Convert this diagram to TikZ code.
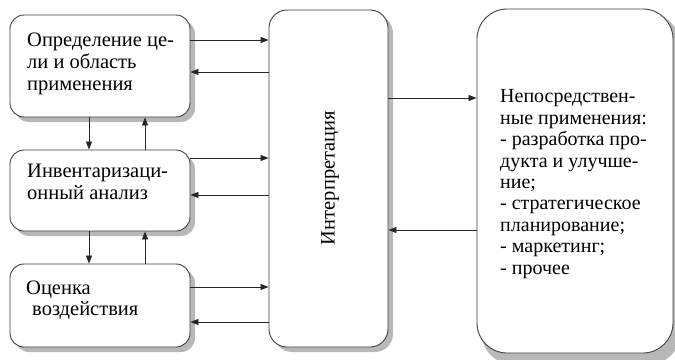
\documentclass[tikz,border=0pt]{standalone}
\usepackage{fontspec}
\setmainfont{Liberation Serif}
\usetikzlibrary{arrows.meta}
\newcommand{\lines}[1]{\begin{tabular}[b]{@{}l@{}}#1\end{tabular}}
\begin{document}
\begin{tikzpicture}[x=1pt,y=-1pt,
  box/.style={draw=black!75, line width=0.9pt, fill=white, rectangle,
    rounded corners=#1, inner sep=0pt},
  box/.default=14pt,
  shade box/.style={fill=black!28, draw=none, rounded corners=#1},
  shade box/.default=14pt,
  txt/.style={anchor=base west, inner sep=0pt,
    font=\fontsize{20.5}{22}\selectfont},
  arr/.style={draw=black!85, line width=0.8pt, -{Triangle[length=8pt,width=6pt]}}]
\useasboundingbox (0,0) rectangle (675,359);

% shadows behind the boxes
\fill[shade box] (15,20) rectangle (195,122);
\fill[shade box] (15,155) rectangle (195,236);
\fill[shade box] (15,269) rectangle (195,352);
\fill[shade box=18pt] (274,15) rectangle (393,352);
\fill[shade box=30pt] (482,14) rectangle (680,364);

% left column
\node[box, minimum width=180pt, minimum height=102pt] (def) at (100,66) {};
\node[box, minimum width=180pt, minimum height=81pt] (inv) at (100,190.5) {};
\node[box, minimum width=180pt, minimum height=83pt] (ocn) at (100,305.5) {};
% interpretation
\node[box=18pt, minimum width=119pt, minimum height=337pt] (int) at (328.5,178.5) {};
% applications
\node[box=30pt, minimum width=196pt, minimum height=344pt] (app) at (575,181) {};

% texts (anchored at the baseline of their last line)
\node[txt] (tdef) at (27,90) {\lines{Определение це-\\ли и область\\применения}};
\node[txt] (tinv) at (27,199) {\lines{Инвентаризаци-\\онный анализ}};
\node[txt, font=\fontsize{20.5}{21}\selectfont] (tocn) at (26,315) {\lines{Оценка\\\hspace*{6pt}воздействия}};
\node[rotate=90, inner sep=0pt, font=\fontsize{20.5}{22}\selectfont] (tint) at (330,178) {Интерпретация};
\node[txt, font=\fontsize{20}{21.4}\selectfont] (tapp) at (500,274)
  {\lines{Непосредствен-\\ные применения:\\- разработка про-\\дукта и улучше-\\ние;\\- стратегическое\\планирование;\\- маркетинг;\\- прочее}};

% links to interpretation
\draw[arr] (def.east |- 0,40) -- (int.west |- 0,40);
\draw[arr] (int.west |- 0,72) -- (def.east |- 0,72);
\draw[arr] (inv.east |- 0,158) -- (int.west |- 0,158);
\draw[arr] (int.west |- 0,195) -- (inv.east |- 0,195);
\draw[arr] (ocn.east |- 0,287) -- (int.west |- 0,287);
\draw[arr] (int.west |- 0,322) -- (ocn.east |- 0,322);

% vertical links
\draw[arr] (def.south -| 89,0) -- (inv.north -| 89,0);
\draw[arr] (inv.north -| 145,0) -- (def.south -| 145,0);
\draw[arr] (inv.south -| 89,0) -- (ocn.north -| 89,0);
\draw[arr] (ocn.north -| 145,0) -- (inv.south -| 145,0);

% interpretation and applications
\draw[arr] (int.east |- 0,98) -- (app.west |- 0,98);
\draw[arr] (app.west |- 0,230) -- (int.east |- 0,230);
\end{tikzpicture}
\end{document}
